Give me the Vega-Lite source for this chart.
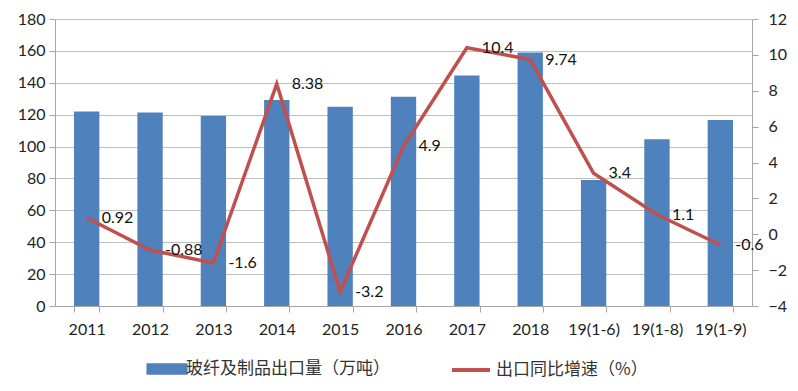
{
  "$schema": "https://vega.github.io/schema/vega-lite/v6.json",
  "width": 697,
  "height": 287,
  "autosize": {"type": "none"},
  "padding": {"left": 55, "top": 19, "right": 46, "bottom": 85},
  "background": "white",
  "config": {
    "view": {"stroke": null},
    "font": "Lato",
    "axis": {
      "labelFont": "Lato",
      "labelFontSize": 16,
      "labelColor": "#222222",
      "domainColor": "#A6A6A6",
      "tickColor": "#A6A6A6",
      "gridColor": "#BFBFBF",
      "tickSize": 6,
      "title": null
    },
    "legend": {
      "labelFont": "Noto Sans CJK SC",
      "labelFontSize": 17,
      "labelColor": "#333333",
      "labelLimit": 400
    }
  },
  "data": {
    "values": [
      {"cat": "2011", "qty": 122, "growth": 0.92, "s1": "玻纤及制品出口量（万吨）", "s2": "出口同比增速（%）"},
      {"cat": "2012", "qty": 121.3, "growth": -0.88, "s1": "玻纤及制品出口量（万吨）", "s2": "出口同比增速（%）"},
      {"cat": "2013", "qty": 119.2, "growth": -1.6, "s1": "玻纤及制品出口量（万吨）", "s2": "出口同比增速（%）"},
      {"cat": "2014", "qty": 129.2, "growth": 8.38, "s1": "玻纤及制品出口量（万吨）", "s2": "出口同比增速（%）"},
      {"cat": "2015", "qty": 125, "growth": -3.2, "s1": "玻纤及制品出口量（万吨）", "s2": "出口同比增速（%）"},
      {"cat": "2016", "qty": 131.3, "growth": 4.9, "s1": "玻纤及制品出口量（万吨）", "s2": "出口同比增速（%）"},
      {"cat": "2017", "qty": 144.5, "growth": 10.4, "s1": "玻纤及制品出口量（万吨）", "s2": "出口同比增速（%）"},
      {"cat": "2018", "qty": 159, "growth": 9.74, "s1": "玻纤及制品出口量（万吨）", "s2": "出口同比增速（%）"},
      {"cat": "19(1-6)", "qty": 79, "growth": 3.4, "s1": "玻纤及制品出口量（万吨）", "s2": "出口同比增速（%）"},
      {"cat": "19(1-8)", "qty": 104.6, "growth": 1.1, "s1": "玻纤及制品出口量（万吨）", "s2": "出口同比增速（%）"},
      {"cat": "19(1-9)", "qty": 116.7, "growth": -0.6, "s1": "玻纤及制品出口量（万吨）", "s2": "出口同比增速（%）"}
    ]
  },
  "encoding": {
    "x": {
      "field": "cat",
      "type": "ordinal",
      "sort": null,
      "scale": {"paddingInner": 0.6, "paddingOuter": 0.3},
      "axis": {"labelAngle": 0, "tickBand": "extent", "labelPadding": 9, "domainColor": "#A6A6A6"}
    }
  },
  "layer": [
    {
      "mark": {"type": "bar"},
      "encoding": {
        "y": {
          "field": "qty",
          "type": "quantitative",
          "scale": {"domain": [0, 180], "nice": false},
          "axis": {"orient": "left", "values": [0, 20, 40, 60, 80, 100, 120, 140, 160, 180], "grid": true, "labelPadding": 4}
        },
        "fill": {
          "field": "s1",
          "type": "nominal",
          "scale": {"range": ["#4F81BD"]},
          "legend": {
            "orient": "none",
            "legendX": 100,
            "legendY": 338,
            "title": null,
            "symbolType": "M-1.75,-0.5L1.75,-0.5L1.75,0.5L-1.75,0.5Z",
            "symbolSize": 550,
            "symbolStrokeWidth": 0,
            "labelOffset": 7
          }
        }
      }
    },
    {
      "encoding": {
        "y": {
          "field": "growth",
          "type": "quantitative",
          "scale": {"domain": [-4, 12], "nice": false},
          "axis": {"orient": "right", "values": [-4, -2, 0, 2, 4, 6, 8, 10, 12], "grid": false, "labelPadding": 10}
        }
      },
      "layer": [
        {
          "mark": {"type": "line", "strokeWidth": 3.5},
          "encoding": {
            "stroke": {
              "field": "s2",
              "type": "nominal",
              "scale": {"range": ["#C0504D"]},
              "legend": {
                "orient": "none",
                "legendX": 395,
                "legendY": 330,
                "title": null,
                "symbolType": "stroke",
                "symbolSize": 1444,
                "symbolStrokeWidth": 4,
                "labelOffset": 4
              }
            }
          }
        },
        {
          "mark": {"type": "text", "align": "left", "baseline": "middle", "dx": 15, "fontSize": 16, "font": "Lato", "color": "#111111"},
          "encoding": {
            "text": {"field": "growth", "type": "nominal"}
          }
        }
      ]
    }
  ],
  "resolve": {"scale": {"y": "independent"}}
}
